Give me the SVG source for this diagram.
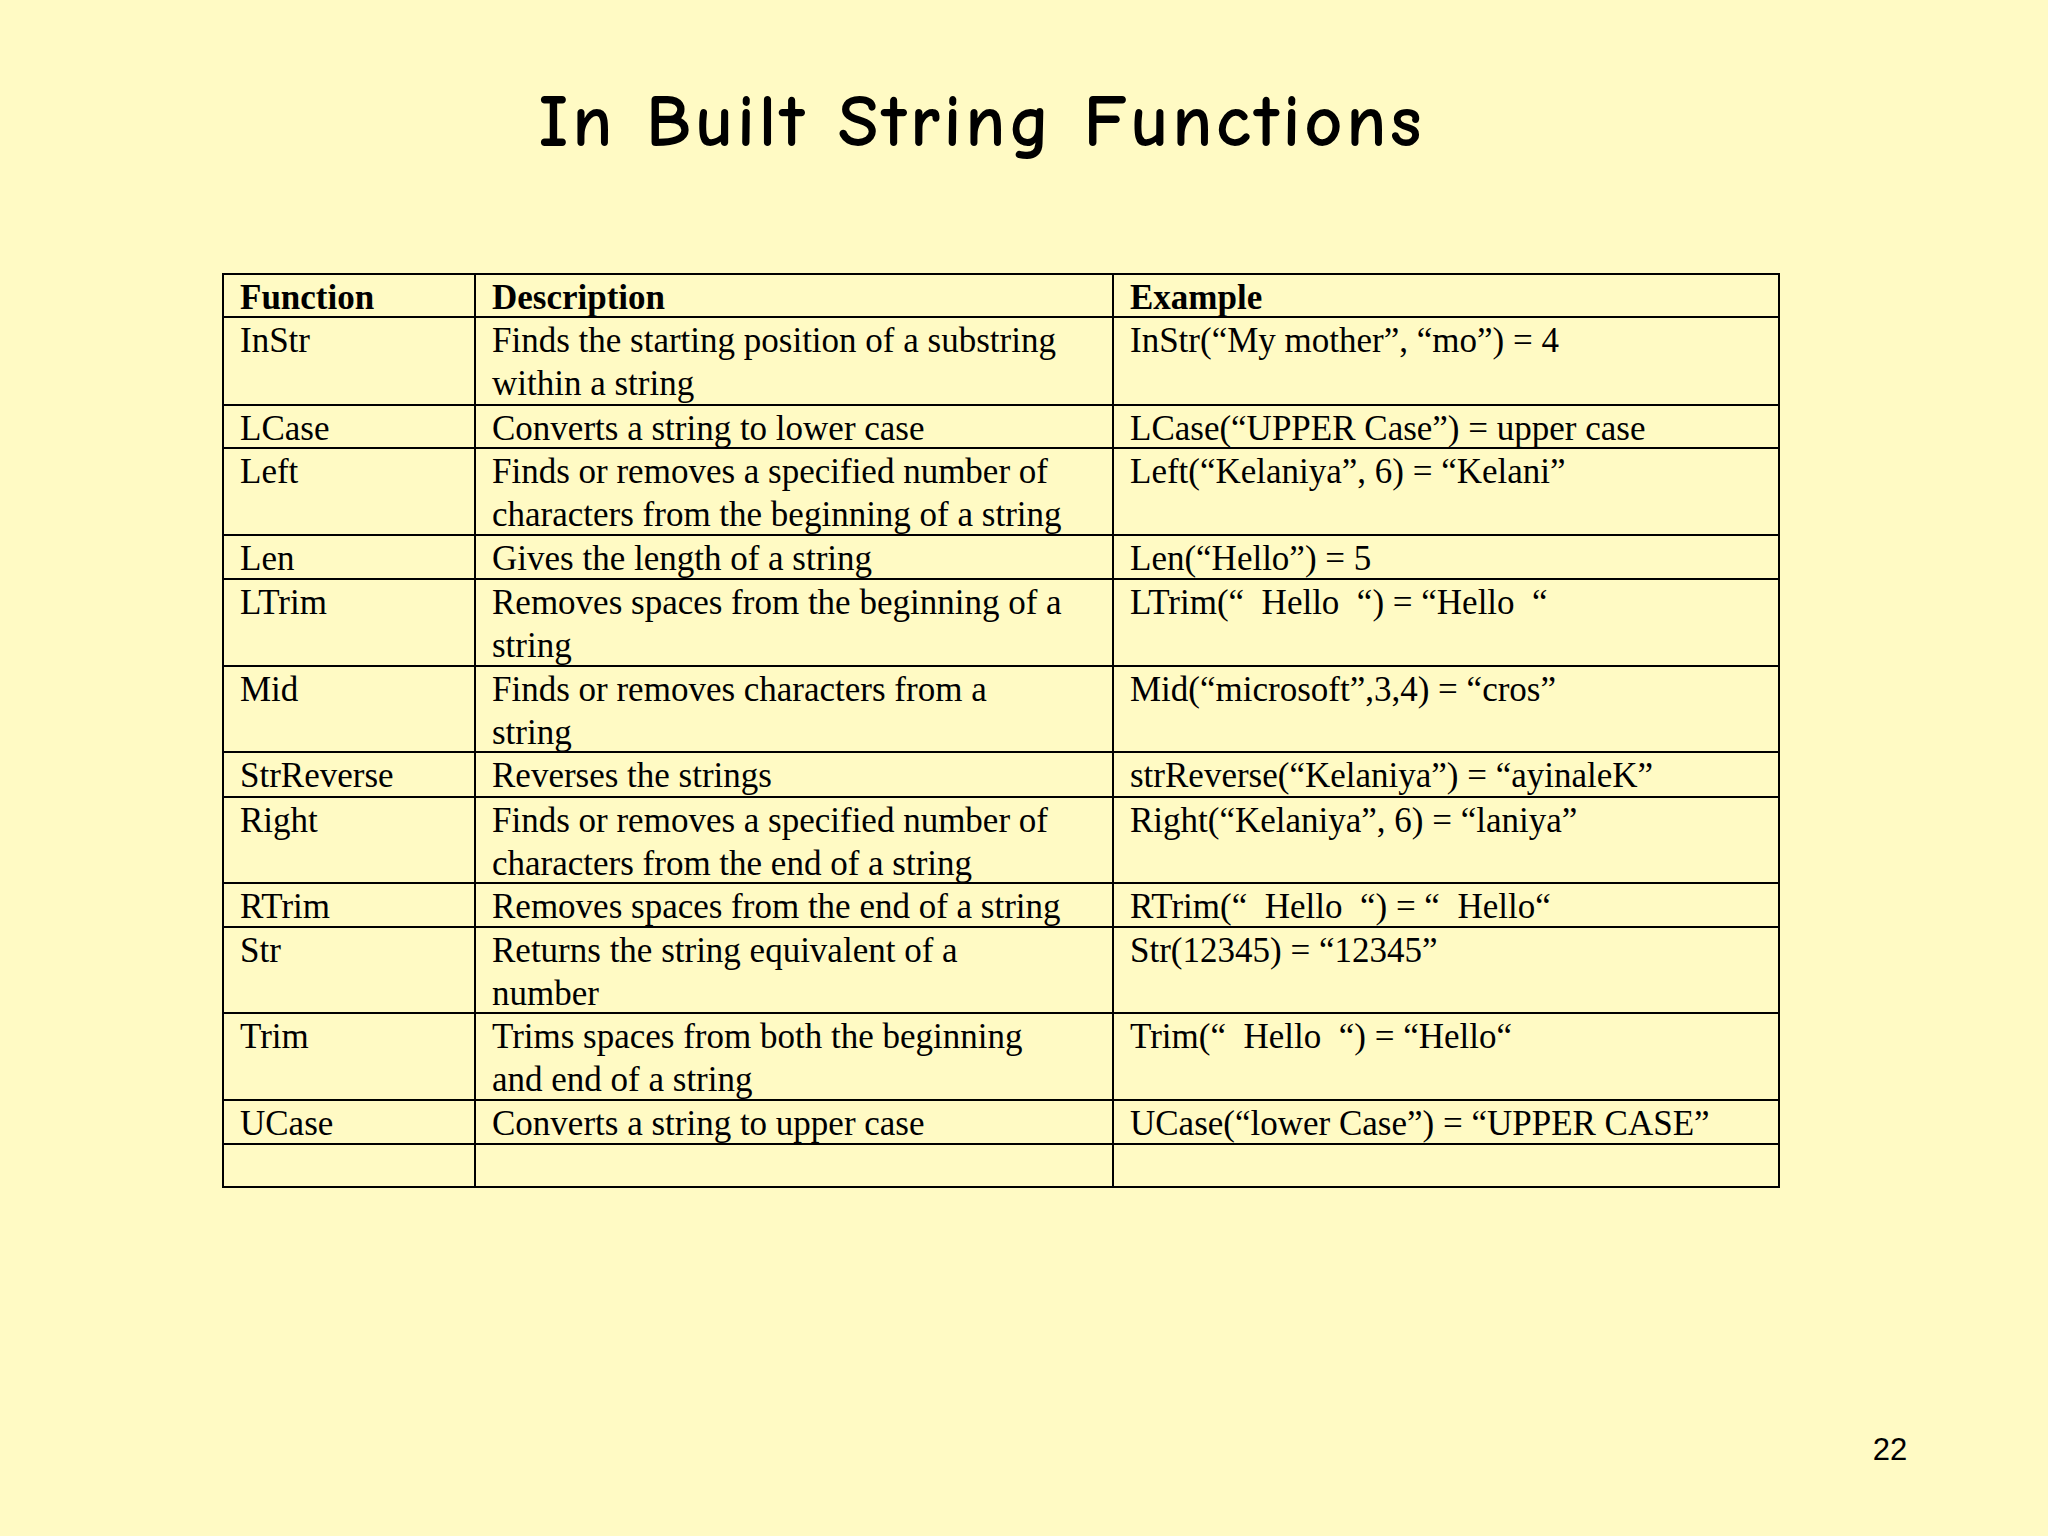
<svg xmlns="http://www.w3.org/2000/svg" width="2048" height="1536" viewBox="0 0 2048 1536">
<style>
.t{font-family:"Liberation Serif",serif;font-size:35px;fill:#000;white-space:pre}
.h{font-weight:bold}
.g line{stroke:#000;stroke-width:2}
</style>
<rect width="2048" height="1536" fill="#FFFAC4"/>
<text x="980" y="146" text-anchor="middle" font-family="'Comic Neue','Liberation Sans',sans-serif" font-weight="bold" font-size="74" textLength="883">In Built String Functions</text>
<text x="1890" y="1460" text-anchor="middle" font-family="'Liberation Sans',sans-serif" font-size="31">22</text>
<g id="table" class="g">
<rect x="223" y="274" width="1556" height="913" fill="none" stroke="#000" stroke-width="2"/>
<line x1="475" y1="274" x2="475" y2="1187"/>
<line x1="1113" y1="274" x2="1113" y2="1187"/>
<line x1="223" y1="317" x2="1779" y2="317"/>
<line x1="223" y1="405" x2="1779" y2="405"/>
<line x1="223" y1="448" x2="1779" y2="448"/>
<line x1="223" y1="535" x2="1779" y2="535"/>
<line x1="223" y1="579" x2="1779" y2="579"/>
<line x1="223" y1="666" x2="1779" y2="666"/>
<line x1="223" y1="752" x2="1779" y2="752"/>
<line x1="223" y1="797" x2="1779" y2="797"/>
<line x1="223" y1="883" x2="1779" y2="883"/>
<line x1="223" y1="927" x2="1779" y2="927"/>
<line x1="223" y1="1013" x2="1779" y2="1013"/>
<line x1="223" y1="1100" x2="1779" y2="1100"/>
<line x1="223" y1="1144" x2="1779" y2="1144"/>
</g>
<g id="texts" class="t">
<text class="t h" x="240" y="309">Function</text><text class="t h" x="492" y="309">Description</text><text class="t h" x="1130" y="309">Example</text>
<text class="t" x="240" y="352">InStr</text><text class="t" x="492" y="352">Finds the starting position of a substring</text><text class="t" x="492" y="395">within a string</text><text class="t" x="1130" y="352">InStr(“My mother”, “mo”) = 4</text>
<text class="t" x="240" y="440">LCase</text><text class="t" x="492" y="440">Converts a string to lower case</text><text class="t" x="1130" y="440">LCase(“UPPER Case”) = upper case</text>
<text class="t" x="240" y="483">Left</text><text class="t" x="492" y="483">Finds or removes a specified number of</text><text class="t" x="492" y="526">characters from the beginning of a string</text><text class="t" x="1130" y="483">Left(“Kelaniya”, 6) = “Kelani”</text>
<text class="t" x="240" y="570">Len</text><text class="t" x="492" y="570">Gives the length of a string</text><text class="t" x="1130" y="570">Len(“Hello”) = 5</text>
<text class="t" x="240" y="614">LTrim</text><text class="t" x="492" y="614">Removes spaces from the beginning of a</text><text class="t" x="492" y="657">string</text><text class="t" x="1130" y="614">LTrim(“  Hello  “) = “Hello  “</text>
<text class="t" x="240" y="701">Mid</text><text class="t" x="492" y="701">Finds or removes characters from a</text><text class="t" x="492" y="744">string</text><text class="t" x="1130" y="701">Mid(“microsoft”,3,4) = “cros”</text>
<text class="t" x="240" y="787">StrReverse</text><text class="t" x="492" y="787">Reverses the strings</text><text class="t" x="1130" y="787">strReverse(“Kelaniya”) = “ayinaleK”</text>
<text class="t" x="240" y="832">Right</text><text class="t" x="492" y="832">Finds or removes a specified number of</text><text class="t" x="492" y="875">characters from the end of a string</text><text class="t" x="1130" y="832">Right(“Kelaniya”, 6) = “laniya”</text>
<text class="t" x="240" y="918">RTrim</text><text class="t" x="492" y="918">Removes spaces from the end of a string</text><text class="t" x="1130" y="918">RTrim(“  Hello  “) = “  Hello“</text>
<text class="t" x="240" y="962">Str</text><text class="t" x="492" y="962">Returns the string equivalent of a</text><text class="t" x="492" y="1005">number</text><text class="t" x="1130" y="962">Str(12345) = “12345”</text>
<text class="t" x="240" y="1048">Trim</text><text class="t" x="492" y="1048">Trims spaces from both the beginning</text><text class="t" x="492" y="1091">and end of a string</text><text class="t" x="1130" y="1048">Trim(“  Hello  “) = “Hello“</text>
<text class="t" x="240" y="1135">UCase</text><text class="t" x="492" y="1135">Converts a string to upper case</text><text class="t" x="1130" y="1135">UCase(“lower Case”) = “UPPER CASE”</text>
</g>
</svg>
